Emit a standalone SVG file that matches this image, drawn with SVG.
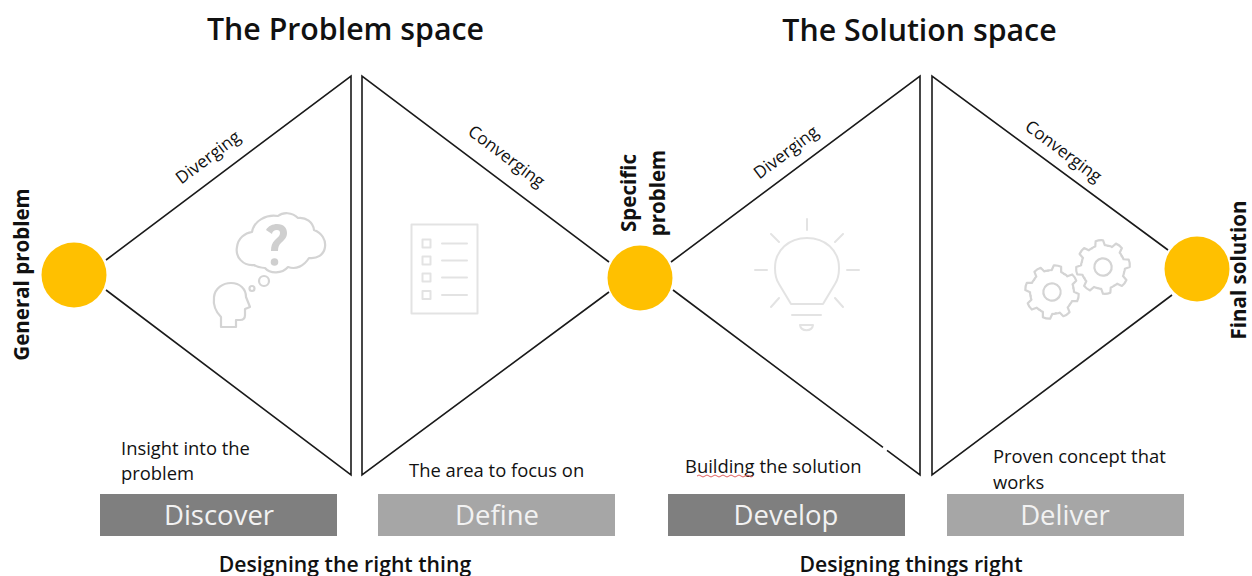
<svg xmlns="http://www.w3.org/2000/svg" width="1252" height="576" viewBox="0 0 1252 576">
<style>
text{font-family:"Open Sans","Noto Sans","Liberation Sans",sans-serif;fill:#111}
.title{font-size:30.300px;font-weight:600;text-anchor:middle}
.bold{font-size:20.500px;font-weight:700;text-anchor:middle}
.sub{font-size:21.200px;font-weight:600;text-anchor:middle}
.lab{font-size:18.400px}
.dir{font-size:17.200px;text-anchor:middle}
.bar{font-size:27.500px;fill:#f2f2f2;text-anchor:middle}
.ln{fill:none;stroke:#1a1a1a;stroke-width:1.6}
.dot{fill:#ffc000}
.dark{fill:#7f7f7f}
.light{fill:#a6a6a6}
.ic{fill:none;stroke:#d4d4d4;stroke-width:2.2;stroke-linecap:round;stroke-linejoin:round}
.ic2{fill:none;stroke:#e3e3e3;stroke-width:2;stroke-linecap:round;stroke-linejoin:round}
</style>
<defs>
<path id="tooth" d="M-8.300 -20.100Q-6 -21.400 -4.800 -21.400L-3.700 -26.500Q0 -27.500 3.700 -26.500L4.800 -21.400Q6 -21.400 8.300 -20.100"/>
<g id="gear">
<use href="#tooth"/><use href="#tooth" transform="rotate(45)"/><use href="#tooth" transform="rotate(90)"/><use href="#tooth" transform="rotate(135)"/><use href="#tooth" transform="rotate(180)"/><use href="#tooth" transform="rotate(225)"/><use href="#tooth" transform="rotate(270)"/><use href="#tooth" transform="rotate(315)"/>
<circle r="8.700"/>
</g>
</defs>
<g id="titles">
<text class="title" x="345.500" y="40">The Problem space</text>
<text class="title" x="919.500" y="41">The Solution space</text>
</g>
<g id="connectors">
<path class="ln" d="M106 260L351 76V475L106 290"/>
<path class="ln" d="M609 262L362 76V475L609 292"/>
<path class="ln" d="M671 262L920 76V475L887 450.300M883 447.300L673 290"/>
<path class="ln" d="M1168 250L932 76V475L1172 295"/>
</g>
<g id="node-general"><circle class="dot" cx="74" cy="275" r="32.500"/>
<text class="bold" transform="translate(29 274.500) rotate(-90)">General problem</text></g>
<g id="node-specific"><circle class="dot" cx="640" cy="278" r="32.500"/>
<text class="bold" transform="translate(636 193) rotate(-90)">Specific</text>
<text class="bold" transform="translate(665 193) rotate(-90)">problem</text></g>
<g id="node-final"><circle class="dot" cx="1197" cy="269" r="32.500"/>
<text class="bold" transform="translate(1245.500 270) rotate(-90)">Final solution</text></g>
<g id="edge-labels">
<text class="dir" transform="translate(211.500 162) rotate(-37)">Diverging</text>
<text class="dir" transform="translate(503 161) rotate(37)">Converging</text>
<text class="dir" transform="translate(789.500 157) rotate(-37)">Diverging</text>
<text class="dir" transform="translate(1060 156) rotate(37)">Converging</text>
</g>
<g id="icon-thought">
<path class="ic" d="M254 265C243 266 235 257 237 247C238 238 245 233 252 232C254 221 266 214 278 216C283 212 292 212 298 218C306 217 313 222 314 230C322 233 326 240 325 247C324 255 317 259 309 258C304 266 296 270 288 267C282 274 270 274 265 268C261 268 257 267 254 265Z"/>
<path d="M266 230C268 226 273 224 277 224C284 224 287 228 287 233C287 238 284 240 281 243C279 245 278 247 278 251H271C271 246 272 243 275 240C278 237 280 236 280 233C280 231 279 230 277 230C274 230 272 232 272 234Z" fill="#cfcfcf"/>
<circle cx="274.500" cy="262" r="3.800" fill="#cfcfcf"/>
<circle class="ic" cx="264" cy="281" r="5"/><circle class="ic" cx="252" cy="288.500" r="2.500"/>
<path class="ic" d="M221 327V317C216 312 213 305 214 297C215 288 223 283 231 283C240 283 246 289 246 297L250 307L245 309V315C245 318 243 320 240 320H236V327Z"/>
</g>
<g id="icon-checklist">
<rect class="ic2" x="411.500" y="224.500" width="66" height="89"/>
<g class="ic2"><rect x="422.500" y="239.500" width="8" height="8"/><rect x="422.500" y="256.500" width="8" height="8"/><rect x="422.500" y="273.500" width="8" height="8"/><rect x="422.500" y="291" width="8" height="8"/>
<path d="M442 243.500H467M442 260.500H467M442 277.500H467M442 295H467"/></g>
</g>
<g id="icon-bulb" class="ic2">
<path d="M807 219V230M771 234L779 242M843 234L835 242M755 270H767M847 270H859M771 307L779 298M843 307L835 298M792 315H821M800 325H813C812 332 801 332 800 325Z"/>
<path d="M791 304L779 284C775 278 775 272 775 268C775 250 789 238 807 238C825 238 839 250 839 268C839 272 839 278 835 284L823 304Z"/>
</g>
<g id="icon-gears" class="ic">
<use href="#gear" transform="translate(1052 292) rotate(12)"/>
<use href="#gear" transform="translate(1103 267) rotate(-8)"/>
</g>
<g id="captions">
<text class="lab" x="121" y="455">Insight into the</text>
<text class="lab" x="121" y="480">problem</text>
<text class="lab" x="409" y="477">The area to focus on</text>
<text class="lab" x="685" y="473">Building the solution</text>
<path d="M697 476Q699 474 701 476T705 476T709 476T713 476T717 476T721 476T725 476T729 476T733 476T737 476T741 476T745 476T749 476T753 476" fill="none" stroke="#e06060" stroke-width="1"/>
<text class="lab" x="993" y="463">Proven concept that</text>
<text class="lab" x="993" y="489">works</text>
</g>
<g id="node-discover"><rect class="dark" x="100" y="494" width="237" height="42"/><text class="bar" x="219" y="525">Discover</text></g>
<g id="node-define"><rect class="light" x="378" y="494" width="237" height="42"/><text class="bar" x="497" y="525">Define</text></g>
<g id="node-develop"><rect class="dark" x="668" y="494" width="237" height="42"/><text class="bar" x="786" y="525">Develop</text></g>
<g id="node-deliver"><rect class="light" x="947" y="494" width="237" height="42"/><text class="bar" x="1065" y="525">Deliver</text></g>
<g id="footers">
<text class="sub" x="345" y="572">Designing the right thing</text>
<text class="sub" x="911" y="572">Designing things right</text>
</g>
</svg>
